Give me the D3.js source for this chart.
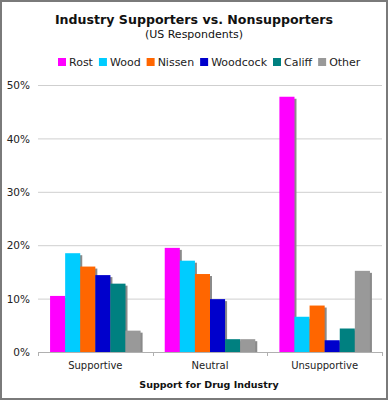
<!DOCTYPE html>
<html>
<head>
<meta charset="utf-8">
<script src="https://cdn.jsdelivr.net/npm/d3@7"></script>
<style>
  body { margin: 0; background: #fff; }
  svg text { font-family: "DejaVu Sans", Verdana, sans-serif; }
</style>
</head>
<body>
<div class="chart"><svg></svg></div>
<script>
// data
let categories = ["Supportive", "Neutral", "Unsupportive"];
let seriesNames = ["Rost", "Wood", "Nissen", "Woodcock", "Califf", "Other"];
let seriesColors = ["#ff00ff", "#00ccff", "#ff6600", "#0000cc", "#008080", "#999999"];
let rost = [10.5, 19.5, 47.8];
let wood = [18.5, 17.1, 6.6];
let nissen = [16.0, 14.6, 8.7];
let woodcock = [14.4, 9.9, 2.2];
let califf = [12.8, 2.4, 4.4];
let other = [4.0, 2.4, 15.2];
let yTicks = [0, 10, 20, 30, 40, 50];

let allSeries = [rost, wood, nissen, woodcock, califf, other];

let width = 388, height = 400;
let margin = {left: 38, right: 6, top: 85, bottom: 48};

let svg = d3.select(".chart").select("svg")
    .attr("width", width)
    .attr("height", height);

svg.append("rect")
    .attr("x", 1).attr("y", 1)
    .attr("width", width - 2).attr("height", height - 2)
    .attr("fill", "#fff")
    .attr("stroke", "#7a7a7a")
    .attr("stroke-width", 2);

//Scale
let xScale = d3.scaleBand()
    .domain(categories)
    .range([margin.left, width - margin.right])
    .paddingInner(0)
    .paddingOuter(0);

let xInner = d3.scaleBand()
    .domain(seriesNames)
    .range([0, xScale.bandwidth()])
    .paddingOuter(0.8)
    .paddingInner(0);

let yScale = d3.scaleLinear()
    .domain([0, 50])
    .range([height - margin.bottom, margin.top]);

// gridlines
svg.append("g")
    .selectAll("line")
    .data(yTicks.slice(1))
    .enter()
    .append("line")
    .attr("x1", margin.left)
    .attr("x2", width - margin.right)
    .attr("y1", d => yScale(d) + 0.5)
    .attr("y2", d => yScale(d) + 0.5)
    .attr("stroke", "#cfcfcf")
    .attr("stroke-width", 1);

// y labels
let yAxis = d3.axisLeft(yScale)
    .tickValues(yTicks)
    .tickSize(0)
    .tickPadding(8)
    .tickFormat(d => d + "%");

let yg = svg.append("g")
    .attr("transform", "translate(" + margin.left + ",0)")
    .call(yAxis);
yg.select(".domain").remove();
yg.selectAll("text")
    .attr("font-size", "10.5px")
    .attr("fill", "#222")
    .attr("dy", "0.35em");

// bars with shadow
let rows = [];
categories.forEach(function(c, i) {
    seriesNames.forEach(function(s, j) {
        rows.push({cat: c, series: s, value: allSeries[j][i], color: seriesColors[j]});
    });
});

let groups = svg.append("g");

groups.selectAll(".shadow")
    .data(rows)
    .enter()
    .append("rect")
    .attr("class", "shadow")
    .attr("x", d => xScale(d.cat) + xInner(d.series) + 2)
    .attr("y", d => yScale(d.value) + 2)
    .attr("width", xInner.bandwidth())
    .attr("height", d => yScale(0) - yScale(d.value) - 2)
    .attr("fill", "#8a8a8a");

groups.selectAll(".bar")
    .data(rows)
    .enter()
    .append("rect")
    .attr("class", "bar")
    .attr("x", d => xScale(d.cat) + xInner(d.series))
    .attr("y", d => yScale(d.value))
    .attr("width", xInner.bandwidth())
    .attr("height", d => yScale(0) - yScale(d.value))
    .attr("fill", d => d.color);

// x axis
let xAxis = d3.axisBottom(xScale)
    .tickSize(0)
    .tickPadding(10);

let xg = svg.append("g")
    .attr("transform", "translate(0," + yScale(0) + ")")
    .call(xAxis);
xg.select(".domain").remove();
xg.selectAll("text")
    .attr("font-size", "10px")
    .attr("fill", "#222");

svg.append("line")
    .attr("x1", margin.left)
    .attr("x2", width - margin.right)
    .attr("y1", yScale(0) + 0.5)
    .attr("y2", yScale(0) + 0.5)
    .attr("stroke", "#b0b0b0");

let bounds = [margin.left].concat(categories.map(c => xScale(c) + xScale.bandwidth()));
svg.append("g")
    .selectAll("line")
    .data(bounds)
    .enter()
    .append("line")
    .attr("x1", d => Math.round(d) + 0.5)
    .attr("x2", d => Math.round(d) + 0.5)
    .attr("y1", yScale(0))
    .attr("y2", yScale(0) + 4)
    .attr("stroke", "#b0b0b0");

// titles
svg.append("text")
    .attr("x", width / 2)
    .attr("y", 24)
    .attr("text-anchor", "middle")
    .attr("font-size", "12.6px")
    .attr("font-weight", "bold")
    .attr("fill", "#111")
    .text("Industry Supporters vs. Nonsupporters");

svg.append("text")
    .attr("x", width / 2)
    .attr("y", 38)
    .attr("text-anchor", "middle")
    .attr("font-size", "11px")
    .attr("fill", "#111")
    .text("(US Respondents)");

svg.append("text")
    .attr("x", 209)
    .attr("y", 388)
    .attr("text-anchor", "middle")
    .attr("font-size", "9.5px")
    .attr("font-weight", "bold")
    .attr("fill", "#111")
    .text("Support for Drug Industry");

// legend
let legend = svg.append("g").attr("transform", "translate(58,62)");
let lx = 0;
seriesNames.forEach(function(s, i) {
    legend.append("rect")
        .attr("x", lx).attr("y", -4)
        .attr("width", 8).attr("height", 8)
        .attr("fill", seriesColors[i]);
    let t = legend.append("text")
        .attr("x", lx + 11).attr("y", 0)
        .attr("dy", "0.35em")
        .attr("font-size", "11px")
        .attr("fill", "#222")
        .text(s);
    lx += 11 + t.node().getComputedTextLength() + 6;
});
</script>
</body>
</html>
